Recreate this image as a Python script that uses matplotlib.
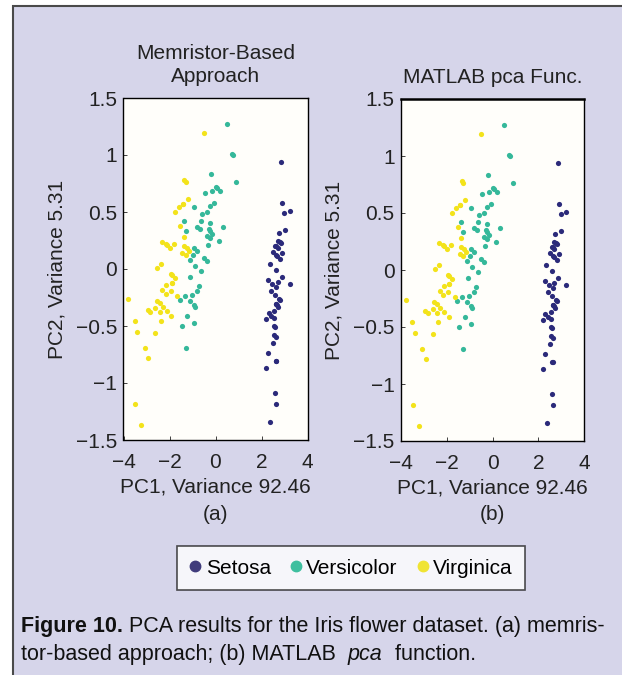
import matplotlib
matplotlib.use("Agg")
import matplotlib.pyplot as plt
from matplotlib.lines import Line2D
from matplotlib.patches import Rectangle

# PCA scores of the Iris dataset as shown in the figure (PC1, PC2)
setosa_pc1 = [2.68,2.71,2.89,2.75,2.73,2.28,2.82,2.63,2.89,2.67,2.51,2.61,2.79,3.22,2.64,2.39,2.62,2.65,2.20,2.59,
              2.31,2.54,3.22,2.30,2.36,2.51,2.47,2.56,2.64,2.63,2.59,2.41,2.65,2.60,2.64,2.87,2.63,2.80,2.98,2.59,
              2.77,2.85,3.00,2.41,2.21,2.71,2.54,2.84,2.54,2.70]
setosa_pc2 = [-0.32,0.18,0.14,0.32,-0.33,-0.74,0.09,-0.16,0.58,0.11,-0.65,-0.01,0.24,0.51,-1.18,-1.34,-0.81,-0.31,-0.87,-0.51,
              -0.39,-0.43,-0.13,-0.10,0.04,0.15,-0.13,-0.37,-0.31,0.20,0.20,-0.41,-0.81,-1.09,0.12,-0.07,-0.60,-0.27,0.49,-0.23,
              -0.26,0.94,0.34,-0.19,-0.44,0.25,-0.50,0.23,-0.58,-0.11]
versicolor_pc1 = [-1.28,-0.93,-1.46,-0.18,-1.09,-0.64,-1.10,0.75,-1.04,0.01,0.51,-0.51,-0.26,-0.98,0.17,-0.93,-0.66,-0.24,-0.94,-0.05,
                  -1.12,-0.36,-1.30,-0.92,-0.71,-0.90,-1.33,-1.56,-0.81,0.31,0.07,0.19,-0.14,-1.38,-0.59,-0.81,-1.22,-0.82,-0.25,-0.17,
                  -0.46,-0.89,-0.23,0.70,-0.36,-0.33,-0.38,-0.64,0.91,-0.30]
versicolor_pc2 = [-0.69,-0.32,-0.50,0.83,-0.07,0.42,-0.28,1.00,-0.23,0.72,1.27,0.10,0.55,0.12,0.25,-0.47,0.35,0.33,0.54,0.58,
                  0.08,0.07,0.33,0.18,-0.15,-0.33,-0.24,-0.27,0.16,0.37,0.71,0.68,0.31,0.42,0.48,-0.19,-0.41,0.37,0.27,0.68,
                  0.67,0.03,0.40,1.01,0.50,0.21,0.29,-0.02,0.76,0.35]
virginica_pc1 = [-2.53,-1.42,-2.62,-1.97,-2.35,-3.40,-0.52,-2.93,-2.32,-2.92,-1.66,-1.80,-2.17,-1.35,-1.59,-1.90,-1.95,-3.49,-3.80,-1.30,
                 -2.43,-1.20,-3.50,-1.39,-2.28,-2.61,-1.26,-1.29,-2.12,-2.39,-2.84,-3.23,-2.16,-1.44,-1.78,-3.08,-2.14,-1.91,-1.17,-2.11,
                 -2.31,-1.92,-1.42,-2.56,-2.42,-1.94,-1.53,-1.76,-1.90,-1.39]
virginica_pc2 = [0.01,0.57,-0.34,0.18,0.04,-0.55,1.19,-0.36,0.24,-0.78,-0.24,0.22,-0.22,0.78,0.54,-0.12,-0.04,-1.18,-0.26,0.76,
                 -0.38,0.61,-0.46,0.20,-0.33,-0.56,0.18,0.12,0.21,-0.46,-0.38,-1.37,0.22,0.14,0.50,-0.69,-0.14,-0.05,0.16,-0.37,
                 -0.18,-0.41,0.57,-0.28,-0.30,-0.19,0.38,-0.08,-0.12,0.28]

names = ['Setosa', 'Versicolor', 'Virginica']
series = [(setosa_pc1, setosa_pc2), (versicolor_pc1, versicolor_pc2), (virginica_pc1, virginica_pc2)]
x_ticks = [-4, -2, 0, 2, 4]
y_ticks = [-1.5, -1, -0.5, 0, 0.5, 1, 1.5]
y_tick_labels = ['\u22121.5', '\u22121', '\u22120.5', '0', '0.5', '1', '1.5']
titles = ['Memristor-Based\nApproach', 'MATLAB pca Func.']
sub_labels = ['(a)', '(b)']
x_label = 'PC1, Variance 92.46'
y_label = 'PC2, Variance 5.31'

plt.rcParams['font.family'] = ['Liberation Sans', 'DejaVu Sans']
W, H = 622, 675
fig = plt.figure(figsize=(W/100, H/100), dpi=100)
fig.patch.set_facecolor('white')
fig.patches.append(Rectangle((13/W, -0.1), 1.2, (1 - 6/H) + 0.1, transform=fig.transFigure,
                             facecolor='#d6d5ea', edgecolor='#4a4a4a', lw=1.5, zorder=-10))

cols = ['#2b2a7a', '#35b89a', '#f3e31a']
leg_cols = ['#403c7c', '#3fbf9f', '#f0e433']
FS = 15
TC = '#222222'
axes_pos = [[123.5/W, 1-440/H, 184/W, 342/H], [401/W, 1-441/H, 183/W, 342/H]]
for i, pos in enumerate(axes_pos):
    ax = fig.add_axes(pos)
    ax.set_facecolor('#fffefa')
    for k, (xs, ys) in enumerate(series):
        ax.scatter(xs, ys, s=14, color=cols[k], lw=0)
    ax.set_xlim(-4, 4); ax.set_ylim(-1.5, 1.5)
    ax.set_xticks(x_ticks)
    ax.set_yticks(y_ticks)
    ax.set_yticklabels(y_tick_labels)
    ax.tick_params(direction='in', length=3, width=0.6, labelsize=FS, colors=TC)
    ax.tick_params(axis='x', pad=9.5)
    ax.tick_params(axis='y', pad=4.5)
    for sp in ax.spines.values():
        sp.set_linewidth(1.0)
    if i == 1:
        ax.spines['top'].set_linewidth(1.8)
    ax.set_title(titles[i], fontsize=FS, pad=11.5, color=TC, linespacing=1.3)
    ax.set_ylabel(y_label, fontsize=FS, labelpad=7, color=TC)
    ax.set_xlabel(x_label, fontsize=FS, labelpad=4, color=TC)
    cx = pos[0] + pos[2]/2
    fig.text(cx, 1-514/H, sub_labels[i], ha='center', va='center', fontsize=FS, color=TC)

handles = [Line2D([], [], marker='o', ls='none', color=c, markersize=7.5) for c in leg_cols]
leg = fig.legend(handles, names, loc='center', bbox_to_anchor=(351/W, 1-568/H), ncol=3,
                 fontsize=FS, frameon=True, fancybox=False, handletextpad=0.2,
                 columnspacing=0.9, handlelength=0.6, borderpad=0.6, borderaxespad=0)
leg.get_frame().set_edgecolor('#222222')
leg.get_frame().set_linewidth(1.2)

# caption
fig.canvas.draw()
r = fig.canvas.get_renderer()
CFS = 15.5
def put(x, y, s, **kw):
    t = fig.text(x/W, 1-y/H, s, ha='left', va='baseline', fontsize=CFS, color='#111111', **kw)
    bb = t.get_window_extent(renderer=r)
    return x + bb.width
x = put(21, 632, 'Figure 10.', fontweight='bold')
put(x, 632, ' PCA results for the Iris flower dataset. (a) memris-')
x = put(21, 660, 'tor-based approach; (b) MATLAB  ')
x = put(x, 660, 'pca', fontstyle='italic')
put(x, 660, '  function.')

fig.savefig("out.png", dpi=100, facecolor=fig.get_facecolor())
